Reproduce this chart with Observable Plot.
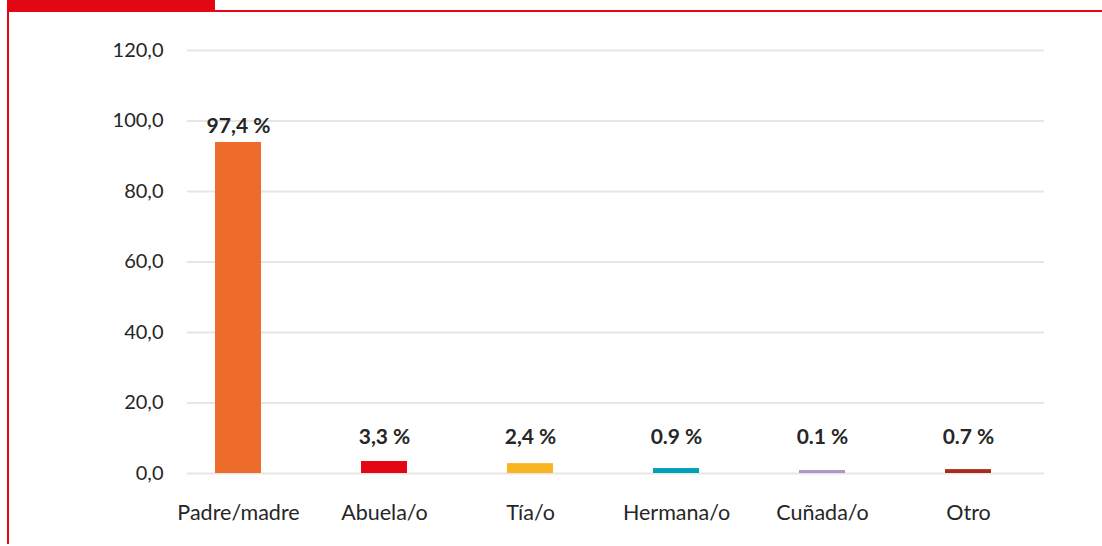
<!DOCTYPE html>
<html>
<head>
<meta charset="utf-8">
<script src="https://cdn.jsdelivr.net/npm/d3@7"></script>
<script src="https://cdn.jsdelivr.net/npm/@observablehq/plot@0.6"></script>
<style>
  html, body { margin: 0; padding: 0; background: #fff; }
  #wrap { position: relative; width: 1102px; height: 546px; overflow: hidden; font-family: Lato, "Noto Sans", sans-serif; }
  #tab { position: absolute; left: 7px; top: 0; width: 208px; height: 10px; background: #e30613; }
  #topline { position: absolute; left: 7px; top: 10px; width: 1095px; height: 1.5px; background: #e30613; }
  #leftline { position: absolute; left: 7px; top: 0; width: 1.5px; height: 544px; background: #e30613; }
  #chart { position: absolute; left: 0; top: 0; }
</style>
</head>
<body>
<div id="wrap">
  <div id="tab"></div>
  <div id="topline"></div>
  <div id="leftline"></div>
  <div id="chart"></div>
</div>
<script>
const categories = ["Padre/madre", "Abuela/o", "Tía/o", "Hermana/o", "Cuñada/o", "Otro"];
// bar heights as drawn in the picture
const barValues = [93.9, 3.4, 2.8, 1.4, 0.85, 1.1];
// value labels as printed
const valueLabels = ["97,4 %", "3,3 %", "2,4 %", "0.9 %", "0.1 %", "0.7 %"];
const colors = ["#ed6c2c", "#e30613", "#f9b620", "#00a0b7", "#b294cb", "#a82a1e"];
const yTicks = [0, 20, 40, 60, 80, 100, 120];

const data = categories.map((c, i) => ({cat: c, v: barValues[i], label: valueLabels[i], color: colors[i]}));
const fmt = d => d3.format(".1f")(d).replace(".", ",");

const chart = Plot.plot({
  width: 1102,
  height: 546,
  marginTop: 50,
  marginBottom: 73,
  marginLeft: 187,
  marginRight: 58,
  style: {fontFamily: "Lato, 'Noto Sans', sans-serif", background: "transparent", color: "#262626"},
  x: {domain: categories, range: [162.7, 1042.3], paddingInner: 0.686, paddingOuter: 0.343, label: null},
  y: {domain: [0, 120], label: null},
  marks: [
    Plot.ruleY(yTicks, {stroke: "#e8e6e0", strokeWidth: 2, strokeOpacity: 1}),
    Plot.axisY({ticks: yTicks, tickFormat: fmt, tickSize: 0, tickPadding: 24, fontSize: 20, label: null, fill: "#262626"}),
    Plot.axisX({tickSize: 0, tickPadding: 31, fontSize: 21.5, label: null, fill: "#262626"}),
    Plot.barY(data, {x: "cat", y: "v", fill: "color"}),
    Plot.text(data, {x: "cat", y: d => Math.max(d.v, 5.7), text: "label", dy: -16, lineAnchor: "middle", fontSize: 21, fontWeight: "bold", fill: "#262626"})
  ]
});
document.getElementById("chart").appendChild(chart);
</script>
</body>
</html>
